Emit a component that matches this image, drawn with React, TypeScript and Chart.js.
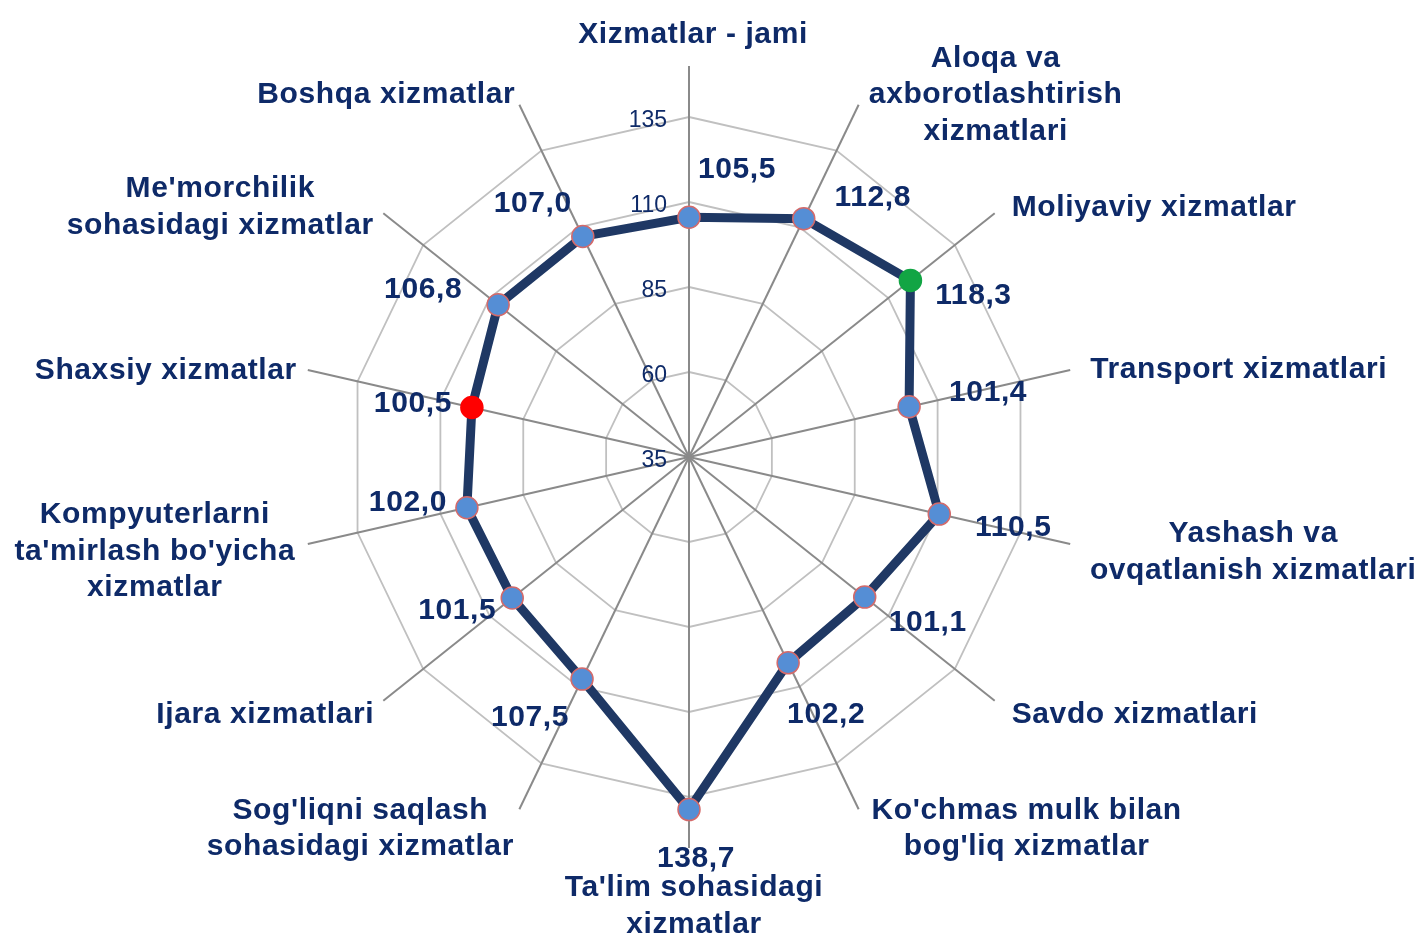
import React, { useEffect, useRef } from "react";
import { Chart, registerables } from "chart.js";

Chart.register(...registerables);

const categories: string[][] = [
  ["Xizmatlar - jami"],
  ["Aloqa va", "axborotlashtirish", "xizmatlari"],
  ["Moliyaviy xizmatlar"],
  ["Transport xizmatlari"],
  ["Yashash va", "ovqatlanish xizmatlari"],
  ["Savdo xizmatlari"],
  ["Ko'chmas mulk bilan", "bog'liq xizmatlar"],
  ["Ta'lim sohasidagi", "xizmatlar"],
  ["Sog'liqni saqlash", "sohasidagi xizmatlar"],
  ["Ijara xizmatlari"],
  ["Kompyuterlarni", "ta'mirlash bo'yicha", "xizmatlar"],
  ["Shaxsiy xizmatlar"],
  ["Me'morchilik", "sohasidagi xizmatlar"],
  ["Boshqa xizmatlar"],
];

const values: number[] = [
  105.5, 112.8, 118.3, 101.4, 110.5, 101.1, 102.2, 138.7, 107.5, 101.5, 102.0, 100.5, 106.8, 107.0,
];

const tickLabels: number[] = [35, 60, 85, 110, 135];
const axisMin = 35;
const axisMax = 150;

// styles
const FONT = '"Liberation Sans", Arial, sans-serif';
const TEXT = "#0e2a68";
const LINE = "#1f3864";
const POINT_FILL = "#558ed5";
const POINT_BORDER = "#d46a6a";
const HIGHLIGHT: Record<number, string> = { 2: "#12a544", 11: "#ff0000" };

// category label placement: [dx, dy(first line center), align] relative to the angle-line end
const catPlacement: [number, number, CanvasTextAlign][] = [
  [4, -31, "center"],
  [137, -46, "center"],
  [17, -5, "left"],
  [20, 0, "left"],
  [183, -10, "center"],
  [17, 14, "left"],
  [168, 1, "center"],
  [5, 40, "center"],
  [-159, 1, "center"],
  [-9, 14, "right"],
  [-153, -29, "center"],
  [-11, 1, "right"],
  [-163, -24, "center"],
  [-4, -10, "right"],
];

// data label placement relative to point
const valPlacement: [number, number][] = [
  [48, -48],
  [69, -21],
  [63, 15],
  [79, -14],
  [74, 14],
  [63, 26],
  [38, 52],
  [7, 49],
  [-52, 39],
  [-55, 13],
  [-59, -5],
  [-59, -4],
  [-75, -15],
  [-50, -33],
];

const labelsPlugin = {
  id: "customLabels",
  beforeDatasetsDraw(chart: any) {
    const scale = chart.scales.r;
    const ctx = chart.ctx;
    ctx.save();
    ctx.font = `23px ${FONT}`;
    ctx.fillStyle = TEXT;
    ctx.textAlign = "right";
    ctx.textBaseline = "middle";
    tickLabels.forEach((t) => {
      const d = scale.getDistanceFromCenterForValue(t);
      ctx.fillText(String(t), scale.xCenter - 22, scale.yCenter - d + 4);
    });
    ctx.restore();
  },
  afterDatasetsDraw(chart: any) {
    const scale = chart.scales.r;
    const ctx = chart.ctx;
    ctx.save();
    ctx.fillStyle = TEXT;
    ctx.textBaseline = "middle";
    (ctx as any).letterSpacing = "0.6px";
    // category labels
    ctx.font = `bold 30px ${FONT}`;
    categories.forEach((lines, i) => {
      const p = scale.getPointPosition(i, scale.drawingArea);
      const [dx, dy, align] = catPlacement[i];
      ctx.textAlign = align;
      lines.forEach((ln, k) => {
        ctx.fillText(ln, p.x + dx, p.y + dy + k * 36.5);
      });
    });
    // value labels
    const meta = chart.getDatasetMeta(0);
    ctx.textAlign = "center";
    meta.data.forEach((pt: any, i: number) => {
      const [dx, dy] = valPlacement[i];
      ctx.fillText(values[i].toFixed(1).replace(".", ","), pt.x + dx, pt.y + dy);
    });
    ctx.restore();
  },
};

export default function App() {
  const ref = useRef<HTMLCanvasElement>(null);
  useEffect(() => {
    if (!ref.current) return;
    const pointColors = values.map((_, i) => HIGHLIGHT[i] ?? POINT_FILL);
    const chart = new Chart(ref.current, {
      type: "radar",
      data: {
        labels: categories.map((c) => c.join(" ")),
        datasets: [
          {
            data: values,
            borderColor: LINE,
            borderWidth: 9,
            fill: false,
            pointRadius: 11,
            pointBackgroundColor: pointColors,
            pointBorderColor: values.map((_, i) => (HIGHLIGHT[i] ? HIGHLIGHT[i] : POINT_BORDER)),
            pointBorderWidth: 1.5,
            tension: 0,
          },
        ],
      },
      options: {
        responsive: false,
        animation: false,
        devicePixelRatio: 1,
        layout: { padding: { left: 298, top: 66, right: 341, bottom: 86 } },
        plugins: { legend: { display: false }, tooltip: { enabled: false } },
        scales: {
          r: {
            min: axisMin,
            max: axisMax,
            afterBuildTicks: (scale: any) => {
              scale.ticks = [...tickLabels, axisMax].map((v) => ({ value: v }));
            },
            ticks: { display: false },
            pointLabels: { display: false },
            grid: {
              color: (c: any) => (c.tick && c.tick.value >= axisMax ? "rgba(0,0,0,0)" : "#c0c0c0"),
              lineWidth: 1.8,
            },
            angleLines: { color: "#8a8a8a", lineWidth: 2 },
          },
        },
      },
      plugins: [labelsPlugin],
    });
    return () => chart.destroy();
  }, []);
  return (
    <div style={{ position: "absolute", left: 0, top: 0, width: 1421, height: 934, background: "#fff" }}>
      <canvas ref={ref} width={1421} height={934} style={{ width: 1421, height: 934, display: "block" }} />
    </div>
  );
}
